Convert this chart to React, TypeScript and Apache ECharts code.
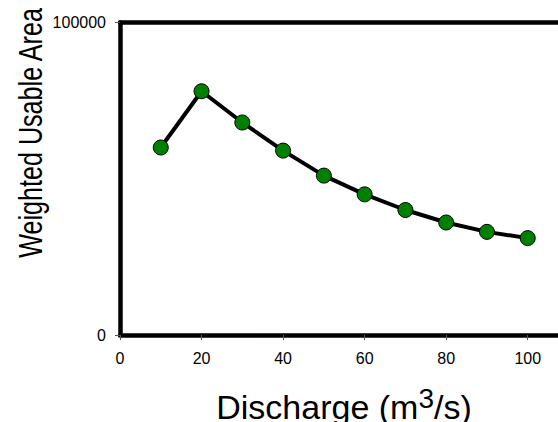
import React, { useEffect, useRef } from "react";
import * as echarts from "echarts";

const discharge = [10, 20, 30, 40, 50, 60, 70, 80, 90, 100];
const wua = [60000, 78000, 68000, 59000, 51000, 45000, 40000, 36000, 33000, 31000];
const xTicks = [0, 20, 40, 60, 80, 100];
const yTicks = [0, 100000];
const yTitle = "Weighted Usable Area";
const xTitleMain = "Discharge (m";
const xTitleSup = "3";
const xTitleEnd = "/s)";

const FONT = "'Liberation Sans', Arial, sans-serif";

export default function App() {
  const ref = useRef<HTMLDivElement>(null);
  useEffect(() => {
    if (!ref.current) return;
    const chart = echarts.init(ref.current, undefined, { renderer: "svg" });
    chart.setOption({
      animation: false,
      backgroundColor: "#fff",
      textStyle: { fontFamily: FONT },
      grid: {
        left: 120,
        top: 22.5,
        width: 448.5,
        height: 312.5,
        outerBoundsMode: "none",
        containLabel: false,
        show: false,
      },
      xAxis: [
        {
          type: "value",
          min: 0,
          max: 110,
          interval: 20,
          splitLine: { show: false },
          axisLine: { show: true, lineStyle: { color: "#000", width: 4.5 } },
          axisTick: { show: true, length: 5, lineStyle: { color: "#555", width: 1 } },
          axisLabel: {
            color: "#000",
            fontSize: 16,
            fontFamily: FONT,
            margin: 15,
            formatter: (v: number) => (xTicks.includes(v) ? String(v) : ""),
          },
        },
        {
          type: "value",
          position: "top",
          min: 0,
          max: 110,
          interval: 20,
          splitLine: { show: false },
          axisLine: { show: true, lineStyle: { color: "#000", width: 4.5 } },
          axisTick: { show: false },
          axisLabel: { show: false },
        },
      ],
      yAxis: {
        type: "value",
        min: 0,
        max: 100000,
        interval: 100000,
        splitLine: { show: false },
        axisLine: { show: true, lineStyle: { color: "#000", width: 4.5 } },
        axisTick: { show: true, length: 5, lineStyle: { color: "#555", width: 1 } },
        axisLabel: {
          color: "#000",
          fontSize: 16,
          fontFamily: FONT,
          margin: 14,
          formatter: (v: number) => (yTicks.includes(v) ? String(v) : ""),
        },
      },
      series: [
        {
          type: "line",
          xAxisIndex: 0,
          data: discharge.map((x, i) => [x, wua[i]]),
          symbol: "circle",
          symbolSize: 15,
          lineStyle: { color: "#000", width: 4 },
          itemStyle: { color: "#008000", borderColor: "#000", borderWidth: 1 },
        },
      ],
      graphic: [
        {
          type: "text",
          x: 30,
          y: 133,
          rotation: Math.PI / 2,
          scaleX: 0.74,
          style: {
            text: yTitle,
            fontSize: 34,
            fontFamily: FONT,
            fill: "#000",
            align: "center",
            verticalAlign: "middle",
          },
        },
        {
          type: "text",
          x: 344,
          y: 404,
          style: {
            text: `{a|${xTitleMain}}{s|${xTitleSup}}{a|${xTitleEnd}}`,
            align: "center",
            verticalAlign: "middle",
            rich: {
              a: { fontSize: 34, fontFamily: FONT, fill: "#000", lineHeight: 40, verticalAlign: "bottom" },
              s: { fontSize: 28, fontFamily: FONT, fill: "#000", lineHeight: 40, verticalAlign: "top" },
            },
          },
        },
      ],
    });
    return () => chart.dispose();
  }, []);
  return (
    <div
      ref={ref}
      style={{ position: "absolute", left: 0, top: 0, width: 558, height: 422 }}
    />
  );
}
